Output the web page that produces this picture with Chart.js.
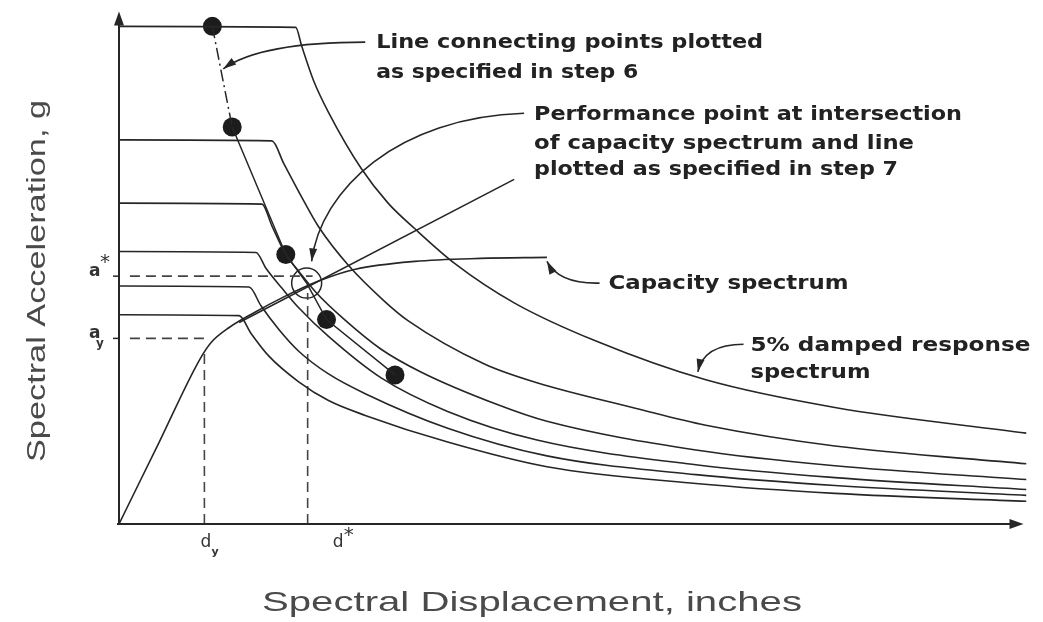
<!DOCTYPE html>
<html>
<head>
<meta charset="utf-8">
<script src="https://cdn.jsdelivr.net/npm/chart.js@4.4.1/dist/chart.umd.min.js"></script>
<style>
  html, body { margin: 0; padding: 0; background: #fff; }
  #wrap { width: 1043px; height: 622px; }
</style>
</head>
<body>
<div id="wrap"><canvas id="grafico" width="1043" height="622"></canvas></div>
<script>
// Sd in inches, Sa in g
// reduced response spectra, 5% damped on top, then more and more damping
const spectrum5 = [[0,0.504],[1.78,0.503],[1.84,0.484],[1.96,0.449],[2.11,0.417],[2.44,0.360],[2.71,0.325],[2.98,0.299],[3.38,0.264],[3.98,0.224],[4.81,0.185],[5.91,0.146],[7.21,0.118],[9.14,0.092]];
const spectrumB = [[0,0.389],[1.54,0.388],[1.66,0.365],[1.84,0.331],[2.01,0.301],[2.31,0.262],[2.68,0.225],[2.91,0.206],[3.68,0.162],[4.21,0.143],[5.21,0.117],[5.91,0.100],[7.21,0.079],[9.14,0.061]];
const spectrumC = [[0,0.325],[1.44,0.324],[1.54,0.302],[1.68,0.273],[1.81,0.256],[1.98,0.235],[2.26,0.208],[2.64,0.177],[3.04,0.154],[3.81,0.121],[4.31,0.104],[5.81,0.075],[7.21,0.059],[9.14,0.045]];
const spectrumD = [[0,0.276],[1.38,0.275],[1.48,0.259],[1.64,0.239],[1.81,0.219],[2.11,0.190],[2.64,0.148],[3.31,0.114],[4.21,0.085],[5.81,0.060],[7.21,0.047],[9.14,0.035]];
const spectrumE = [[0,0.241],[1.31,0.240],[1.43,0.221],[1.61,0.197],[1.81,0.175],[2.11,0.152],[2.48,0.132],[3.31,0.097],[4.31,0.069],[5.81,0.050],[7.21,0.039],[9.14,0.029]];
const spectrumF = [[0,0.212],[1.21,0.211],[1.33,0.193],[1.51,0.170],[1.81,0.144],[2.11,0.125],[2.48,0.110],[3.31,0.083],[4.31,0.058],[5.81,0.041],[7.21,0.031],[9.14,0.023]];

const capacity = [[0,0],[0.41,0.084],[0.81,0.166],[0.93,0.184],[1.11,0.199],[1.36,0.214],[1.64,0.229],[2.01,0.246],[2.38,0.258],[2.98,0.266],[3.64,0.269],[4.31,0.270]];

// points plotted in step 6 and the performance point
const stepPoints = [[0.94,0.504],[1.14,0.402],[1.68,0.273],[2.09,0.207],[2.78,0.151]];
const performancePoint = [1.89, 0.244];

const yTickValues = [0.251, 0.188];
const yTickLabels = ['a*', 'ay'];
const xTickValues = [0.86, 1.90];
const xTickLabels = ['dy', 'd*'];

const INK = '#262626';
const pts = arr => arr.map(([x, y]) => ({ x, y }));

function curve(arr) {
  return { data: pts(arr), showLine: true, borderColor: INK, borderWidth: 1.6, pointRadius: 0, cubicInterpolationMode: 'monotone' };
}
function guide(arr) {
  return { data: pts(arr), showLine: true, borderColor: '#444', borderWidth: 1.6, borderDash: [10, 6], pointRadius: 0, tension: 0 };
}

const connecting = stepPoints.slice(0, 3).concat([performancePoint], stepPoints.slice(3));

const datasets = [
  curve(spectrum5), curve(spectrumB), curve(spectrumC), curve(spectrumD), curve(spectrumE), curve(spectrumF),
  curve(capacity),
  guide([[0.11, yTickValues[0]], [1.95, yTickValues[0]]]),
  guide([[0.11, yTickValues[1]], [0.91, yTickValues[1]]]),
  guide([[xTickValues[0], 0], [xTickValues[0], 0.174]]),
  guide([[xTickValues[1], 0], [xTickValues[1], 0.234]]),
  {
    data: pts(connecting), showLine: true, borderColor: INK, borderWidth: 1.5, pointRadius: 0, tension: 0,
    segment: { borderDash: c => c.p0DataIndex === 0 ? [12, 4, 2, 4] : undefined }
  },
  { data: pts(stepPoints), showLine: false, pointRadius: 9.5, pointBackgroundColor: '#1c1c1c', pointBorderWidth: 0 },
  { data: pts([performancePoint]), showLine: false, pointRadius: 15, pointBackgroundColor: 'rgba(0,0,0,0)', pointBorderColor: INK, pointBorderWidth: 1.5 }
];

// annotation texts (anchor = left / vertical middle, in data units; width in px)
const notes = [
  { text: 'Line connecting points plotted', at: [2.59, 0.487], width: 387 },
  { text: 'as specified in step 6', at: [2.59, 0.457], width: 262 },
  { text: 'Performance point at intersection', at: [4.18, 0.414], width: 428 },
  { text: 'of capacity spectrum and line', at: [4.18, 0.385], width: 380 },
  { text: 'plotted as specified in step 7', at: [4.18, 0.358], width: 364 },
  { text: 'Capacity spectrum', at: [4.93, 0.243], width: 240 },
  { text: '5% damped response', at: [6.36, 0.180], width: 280 },
  { text: 'spectrum', at: [6.36, 0.153], width: 120 }
];
const leaders = [
  { from: [2.48, 0.488], ctrl: [[1.43, 0.488]], tip: [1.05, 0.461], arrow: true },
  { from: [4.08, 0.416], ctrl: [[2.81, 0.412], [2.03, 0.339]], tip: [1.94, 0.266], arrow: true },
  { from: [3.98, 0.349], ctrl: [], tip: [1.21, 0.204], arrow: false },
  { from: [4.84, 0.244], ctrl: [[4.43, 0.243]], tip: [4.31, 0.266], arrow: true },
  { from: [6.29, 0.182], ctrl: [[5.89, 0.182]], tip: [5.83, 0.154], arrow: true }
];

function arrowHead(ctx, fx, fy, tx, ty, len, half) {
  const a = Math.atan2(ty - fy, tx - fx);
  const bx = tx - len * Math.cos(a), by = ty - len * Math.sin(a);
  ctx.beginPath();
  ctx.moveTo(tx, ty);
  ctx.lineTo(bx + half * Math.sin(a), by - half * Math.cos(a));
  ctx.lineTo(bx - half * Math.sin(a), by + half * Math.cos(a));
  ctx.closePath();
  ctx.fill();
}

function fitText(ctx, str, x, y, width) {
  const w = ctx.measureText(str).width;
  ctx.save();
  ctx.translate(x, y);
  ctx.scale(width / w, 1);
  ctx.fillText(str, 0, 0);
  ctx.restore();
}

const drawing = {
  id: 'drawing',
  afterDatasetsDraw(chart) {
    const ctx = chart.ctx;
    const sx = chart.scales.x, sy = chart.scales.y;
    const P = ([x, y]) => [sx.getPixelForValue(x), sy.getPixelForValue(y)];
    const x0 = sx.getPixelForValue(0), y0 = sy.getPixelForValue(0);

    ctx.save();
    ctx.strokeStyle = INK;
    ctx.fillStyle = INK;
    ctx.lineWidth = 2;

    // axes with arrows
    ctx.beginPath();
    ctx.moveTo(x0, y0);
    ctx.lineTo(x0, chart.chartArea.top - 2);
    ctx.moveTo(x0 - 2, y0);
    ctx.lineTo(chart.chartArea.right - 6, y0);
    ctx.stroke();
    arrowHead(ctx, x0, y0, x0, chart.chartArea.top - 5, 14, 5);
    arrowHead(ctx, x0, y0, chart.chartArea.right - 3, y0, 14, 5);

    // small ticks on the y axis
    ctx.lineWidth = 1.5;
    yTickValues.forEach(v => {
      const y = sy.getPixelForValue(v);
      ctx.beginPath();
      ctx.moveTo(x0 - 6, y);
      ctx.lineTo(x0, y);
      ctx.stroke();
    });

    // leaders
    ctx.lineWidth = 1.6;
    leaders.forEach(l => {
      const f = P(l.from), t = P(l.tip), c = l.ctrl.map(P);
      ctx.beginPath();
      ctx.moveTo(f[0], f[1]);
      if (c.length === 2) ctx.bezierCurveTo(c[0][0], c[0][1], c[1][0], c[1][1], t[0], t[1]);
      else if (c.length === 1) ctx.quadraticCurveTo(c[0][0], c[0][1], t[0], t[1]);
      else ctx.lineTo(t[0], t[1]);
      ctx.stroke();
      if (l.arrow) {
        const last = c.length ? c[c.length - 1] : f;
        arrowHead(ctx, last[0], last[1], t[0], t[1], 13, 4);
      }
    });

    // annotation text
    ctx.fillStyle = '#222';
    ctx.font = 'bold 19px "DejaVu Sans"';
    ctx.textBaseline = 'middle';
    ctx.textAlign = 'left';
    notes.forEach(n => {
      const [x, y] = P(n.at);
      fitText(ctx, n.text, x, y, n.width);
    });

    // tick labels: first letter, then super / subscript
    ctx.fillStyle = '#333';
    yTickValues.forEach((v, i) => {
      const y = sy.getPixelForValue(v);
      const lab = yTickLabels[i];
      ctx.font = 'bold 17px "DejaVu Sans"';
      ctx.fillText(lab[0], x0 - 30, y - 5);
      if (lab[1] === '*') {
        ctx.font = '20px "DejaVu Sans"';
        ctx.fillText('*', x0 - 19, y - 13);
      } else {
        ctx.font = 'bold 12px "DejaVu Sans"';
        ctx.fillText(lab[1], x0 - 23, y + 5);
      }
    });
    xTickValues.forEach((v, i) => {
      const x = sx.getPixelForValue(v);
      const lab = xTickLabels[i];
      ctx.font = '17px "DejaVu Sans"';
      if (lab[1] === '*') {
        ctx.fillText(lab[0], x + 25, y0 + 19);
        ctx.font = '20px "DejaVu Sans"';
        ctx.fillText('*', x + 36, y0 + 12);
      } else {
        ctx.fillText(lab[0], x - 4, y0 + 19);
        ctx.font = 'bold 11px "DejaVu Sans"';
        ctx.fillText(lab[1], x + 7, y0 + 28);
      }
    });

    // axis titles
    ctx.fillStyle = '#4a4a4a';
    ctx.textAlign = 'left';
    ctx.font = '28px "Liberation Sans"';
    fitText(ctx, 'Spectral Displacement, inches', 262, 603, 540);
    ctx.save();
    ctx.translate(38, 462);
    ctx.rotate(-Math.PI / 2);
    ctx.font = '25px "Liberation Sans"';
    fitText(ctx, 'Spectral Acceleration, g', 0, 0, 362);
    ctx.restore();

    ctx.restore();
  }
};

new Chart(document.getElementById('grafico').getContext('2d'), {
  type: 'scatter',
  data: { datasets },
  options: {
    responsive: false,
    animation: false,
    layout: { padding: { left: 119, top: 10, right: 10, bottom: 98 } },
    scales: {
      x: { type: 'linear', display: false, min: 0, max: 9.14 },
      y: { type: 'linear', display: false, min: 0, max: 0.514 }
    },
    plugins: { legend: { display: false }, tooltip: { enabled: false } }
  },
  plugins: [drawing]
});
</script>
</body>
</html>
